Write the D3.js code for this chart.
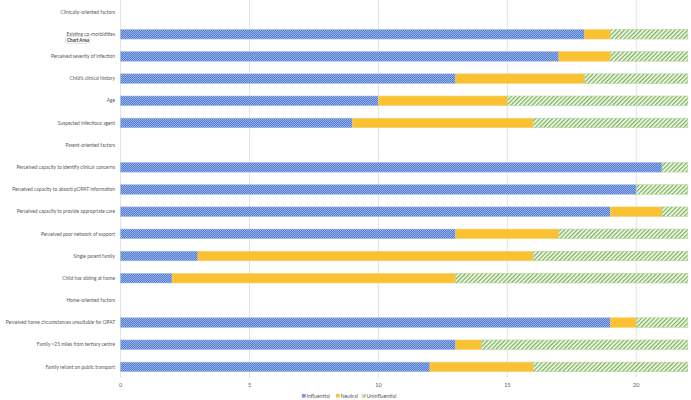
<!DOCTYPE html>
<html><head><meta charset="utf-8">
<script src="https://cdn.jsdelivr.net/npm/d3@7"></script>
<style>body{margin:0;background:#fff}svg{display:block}</style>
</head><body>
<svg id="c" width="691" height="400"></svg>
<script>
const categories = ["Clinically-oriented factors","Existing co-morbidities","Perceived severity of infection","Child's clinical history","Age","Suspected infectious agent","Parent-oriented factors","Perceived capacity to identify clinical concerns","Perceived capacity  to absorb pOPAT information","Perceived capacity to provide appropriate care","Perceived poor network of support","Single parent family","Child has sibling at home","Home-oriented factors","Perceived home circumstances unsuitable for OPAT","Family >25 miles from tertiary centre","Family reliant on public transport"];
const influential   = [null,18,17,13,10,9,null,21,20,19,13,3,2,null,19,13,12];
const neutral       = [null,1,2,5,5,7,null,0,0,2,4,13,11,null,1,1,4];
const uninfluential = [null,3,3,4,7,6,null,1,2,1,5,6,9,null,2,8,6];
const seriesNames = ["Influential","Neutral","Uninfluential"];
const xTicks = [0,5,10,15,20];

const svg = d3.select("#c");
const font = "Lato, 'Open Sans', sans-serif";
const defs = svg.append("defs");
const pb = defs.append("pattern").attr("id","pBlue").attr("patternUnits","userSpaceOnUse").attr("width",2).attr("height",2);
pb.append("rect").attr("width",2).attr("height",2).attr("fill","#5580d0");
pb.append("rect").attr("width",1).attr("height",1).attr("fill","#94aee8");
pb.append("rect").attr("x",1).attr("y",1).attr("width",1).attr("height",1).attr("fill","#94aee8");
const py = defs.append("pattern").attr("id","pYel").attr("patternUnits","userSpaceOnUse").attr("width",2).attr("height",2);
py.append("rect").attr("width",2).attr("height",2).attr("fill","#fbc12f");
py.append("rect").attr("width",1).attr("height",1).attr("fill","#f8c23e");
const pg = defs.append("pattern").attr("id","pGreen").attr("patternUnits","userSpaceOnUse").attr("width",3).attr("height",3).attr("patternTransform","rotate(45)");
pg.append("rect").attr("width",3).attr("height",3).attr("fill","#ffffff");
pg.append("rect").attr("width",1.4).attr("height",3).attr("fill","#7cb356");

const fills = ["url(#pBlue)","url(#pYel)","url(#pGreen)"];
const strokes = ["#9db4e6","#f7d06a","#b5d69c"];

const x = d3.scaleLinear().domain([0,22]).range([120.6, 687.8]);
const y = d3.scaleBand().domain(categories).range([1, 378]).paddingInner(0.57).paddingOuter(0.285);

svg.append("g").selectAll("line").data(xTicks).join("line")
  .attr("x1",d=>x(d)).attr("x2",d=>x(d)).attr("y1",0).attr("y2",378)
  .attr("stroke","#e3e3e3").attr("stroke-width",1);

svg.append("g").selectAll("text").data(xTicks).join("text")
  .attr("x",d=>x(d)).attr("y",387).attr("text-anchor","middle")
  .attr("font-family",font).attr("font-size",5.5).attr("fill","#595959").text(d=>d);

svg.append("g").selectAll("text").data(categories).join("text")
  .attr("x",115).attr("y",d=>y(d)+y.bandwidth()/2+1.7).attr("text-anchor","end")
  .attr("font-family",font).attr("font-size",4.85).attr("fill","#595959").text(d=>d);

const rows = categories.map((c,i)=>({c, v:[influential[i],neutral[i],uninfluential[i]]})).filter(r=>r.v[0]!==null);
const g = svg.append("g");
rows.forEach(r=>{
  let acc=0;
  r.v.forEach((v,k)=>{
    if(v>0){
      g.append("rect").attr("x",x(acc)).attr("y",y(r.c)).attr("width",x(acc+v)-x(acc)).attr("height",y.bandwidth())
        .attr("fill",fills[k]).attr("stroke",strokes[k]).attr("stroke-width",0.6);
    }
    acc+=v;
  });
});

const leg = svg.append("g").attr("font-family",font).attr("font-size",5.3).attr("fill","#595959");
const lx = [302, 336, 362];
seriesNames.forEach((n,k)=>{
  leg.append("rect").attr("x",lx[k]).attr("y",394).attr("width",3.5).attr("height",3.5).attr("fill",fills[k]).attr("stroke",strokes[k]).attr("stroke-width",0.4);
  leg.append("text").attr("x",lx[k]+4.5).attr("y",397.8).text(n);
});

const tip = svg.append("g");
tip.append("rect").attr("x",65.5).attr("y",36.5).attr("width",24.5).attr("height",7).attr("rx",1.5)
  .attr("fill","#fbfbfb").attr("stroke","#d0d0d0").attr("stroke-width",0.5);
tip.append("text").attr("x",67).attr("y",42).attr("font-family",font).attr("font-size",4.6).attr("font-weight","bold").attr("fill","#404040").text("Chart Area");
</script>
</body></html>
